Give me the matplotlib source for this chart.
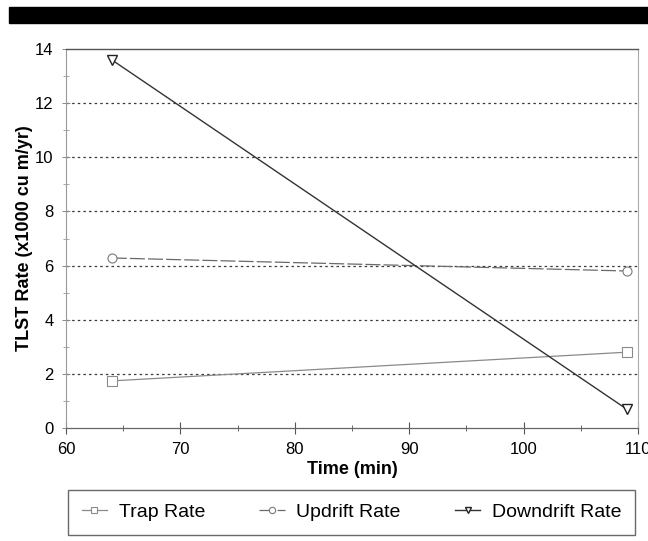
import matplotlib.pyplot as plt
from matplotlib.patches import Rectangle

plt.rcParams['font.family'] = ['Liberation Sans', 'DejaVu Sans']

time_min = [64, 109]
trap_rate = [1.74, 2.8]
updrift_rate = [6.28, 5.8]
downdrift_rate = [13.6, 0.7]

x_ticks = [60, 70, 80, 90, 100, 110]
y_ticks = [0, 2, 4, 6, 8, 10, 12, 14]

fig = plt.figure(figsize=(6.48, 5.41), dpi=100)
ax = fig.add_axes([66 / 648, 1 - 428 / 541, 572 / 648, 379 / 541])

# black band across the top of the scan
fig.add_artist(Rectangle((9 / 648, 1 - 23 / 541), 639 / 648, 16 / 541,
                         transform=fig.transFigure, color='black', zorder=5))

for y in y_ticks[1:-1]:
    ax.axhline(y, color='#3a3a3a', lw=0.9, ls=(0, (2, 2.5)), zorder=1)

ax.plot(time_min, trap_rate, color='#8a8a8a', lw=0.9, marker='s', ms=6.5,
        mfc='white', mec='#8a8a8a', mew=0.8, label='Trap Rate', zorder=3)
ax.plot(time_min, updrift_rate, color='#6a6a6a', lw=0.9, ls=(0, (12, 2.5)), marker='o', ms=6.5,
        mfc='white', mec='#7a7a7a', mew=0.8, label='Updrift Rate', zorder=3)
ax.plot(time_min, downdrift_rate, color='#333333', lw=1.0, marker='v', ms=7,
        mfc='white', mec='#222222', mew=1.0, label='Downdrift Rate', zorder=3)

ax.set_xlim(60, 110)
ax.set_ylim(0, 14)
ax.set_xticks(x_ticks)
ax.set_yticks(y_ticks)
ax.set_xticks([65, 75, 85, 95, 105], minor=True)
ax.set_yticks([1, 3, 5, 7, 9, 11, 13], minor=True)
ax.tick_params(axis='x', which='major', direction='inout', length=8, width=0.8,
               color='#555555', labelsize=12, pad=6)
ax.tick_params(axis='x', which='minor', direction='inout', length=4, width=0.7, color='#666666')
ax.tick_params(axis='y', which='major', direction='inout', length=6, width=0.7,
               color='#888888', labelsize=12, pad=6)
ax.tick_params(axis='y', which='minor', direction='inout', length=4, width=0.6, color='#999999')

ax.spines['top'].set_color('#555555')
ax.spines['top'].set_linewidth(1.0)
ax.spines['right'].set_color('#aaaaaa')
ax.spines['right'].set_linewidth(0.8)
ax.spines['left'].set_color('#999999')
ax.spines['left'].set_linewidth(0.8)
ax.spines['bottom'].set_color('#666666')
ax.spines['bottom'].set_linewidth(0.9)

ax.set_xlabel('Time (min)', fontsize=13, fontweight='bold')
ax.xaxis.set_label_coords(0.5, -0.086)
ax.set_ylabel('TLST Rate (x1000 cu m/yr)', fontsize=13, fontweight='bold')
ax.yaxis.set_label_coords(-0.058, 0.5)

fig.legend(loc='upper left', bbox_to_anchor=(68 / 648, 1 - 490 / 541 - 0.05, 567 / 648, 0.05),
           ncol=3, mode='expand', fontsize=14, frameon=True, fancybox=False,
           edgecolor='#444444', borderpad=0.7, handlelength=1.3, handletextpad=0.6,
           borderaxespad=0, markerscale=0.7)

fig.savefig('out.png', dpi=100, facecolor='white')
plt.close(fig)
